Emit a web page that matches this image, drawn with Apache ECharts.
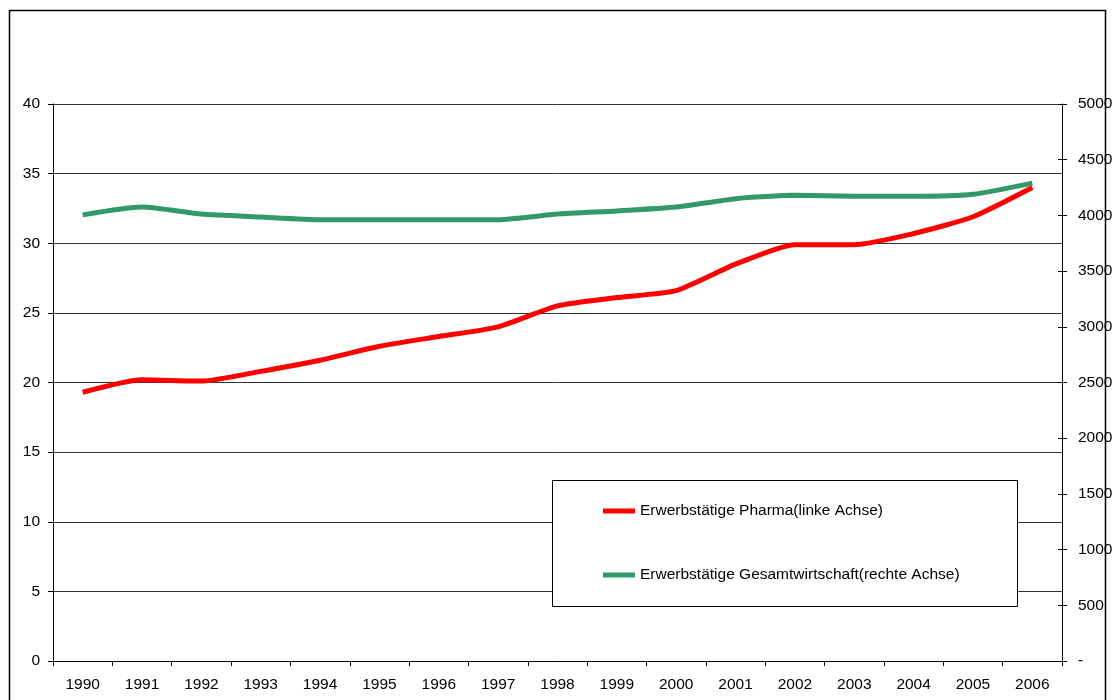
<!DOCTYPE html>
<html>
<head>
<meta charset="utf-8">
<script src="https://cdn.jsdelivr.net/npm/echarts@6/dist/echarts.min.js"></script>
<style>
  html, body { margin: 0; padding: 0; background: #fff; }
  #chart { width: 1117px; height: 700px; }
</style>
</head>
<body>
<div id="chart"></div>
<script>
// Erwerbstätige 1990–2006: Pharma (Tsd., linke Achse) vs. Gesamtwirtschaft (Tsd., rechte Achse)
const years = ['1990','1991','1992','1993','1994','1995','1996','1997','1998','1999','2000','2001','2002','2003','2004','2005','2006'];
const pharma = [19.3, 20.2, 20.1, 20.8, 21.6, 22.6, 23.3, 24.0, 25.5, 26.1, 26.6, 28.5, 29.9, 29.9, 30.7, 31.9, 34.0];
const gesamt = [4005, 4075, 4012, 3986, 3962, 3962, 3962, 3962, 4012, 4040, 4075, 4150, 4180, 4172, 4172, 4190, 4290];
const leftTicks = { min: 0, max: 40, interval: 5 };
const rightTicks = { min: 0, max: 5000, interval: 500 };

const FONT = 'Liberation Sans, Arial, sans-serif';
const FS = 15.5;
const chart = echarts.init(document.getElementById('chart'), null, { renderer: 'canvas' });

chart.setOption({
  animation: false,
  backgroundColor: '#fff',
  textStyle: { fontFamily: FONT },
  grid: { left: 53, right: 55, top: 104, bottom: 39, containLabel: false },
  graphic: [
    { type: 'rect', shape: { x: 9.5, y: 10.5, width: 1096, height: 700 },
      style: { fill: null, stroke: '#000', lineWidth: 1.5 }, silent: true, z: 0 },
    { type: 'rect', shape: { x: 552.5, y: 480.5, width: 465, height: 126 },
      style: { fill: '#fff', stroke: '#000', lineWidth: 1 }, silent: true, z: 10 }
  ],
  legend: {
    orient: 'vertical',
    left: 603,
    top: 503,
    padding: 0,
    itemGap: 48,
    itemWidth: 32,
    itemHeight: 5,
    icon: 'rect',
    z: 20,
    textStyle: { fontFamily: FONT, fontSize: FS, lineHeight: 16, color: '#000' },
    data: ['Erwerbstätige Pharma(linke Achse)', 'Erwerbstätige Gesamtwirtschaft(rechte Achse)']
  },
  xAxis: {
    type: 'category',
    data: years,
    boundaryGap: true,
    axisLine: { show: true, lineStyle: { color: '#000', width: 1 } },
    axisTick: { show: true, alignWithLabel: false, length: 5, lineStyle: { color: '#000' } },
    axisLabel: { color: '#000', fontSize: FS, margin: 16, fontFamily: FONT, interval: 0 },
    splitLine: { show: false }
  },
  yAxis: [
    {
      type: 'value',
      position: 'left',
      min: leftTicks.min, max: leftTicks.max, interval: leftTicks.interval,
      axisLine: { show: true, lineStyle: { color: '#000', width: 1 } },
      axisTick: { show: true, length: 5, lineStyle: { color: '#000' } },
      axisLabel: { color: '#000', fontSize: FS, margin: 13, fontFamily: FONT },
      splitLine: { show: true, lineStyle: { color: '#333', width: 1 } }
    },
    {
      type: 'value',
      position: 'right',
      min: rightTicks.min, max: rightTicks.max, interval: rightTicks.interval,
      axisLine: { show: true, lineStyle: { color: '#000', width: 1 } },
      axisTick: { show: true, length: 5, lineStyle: { color: '#000' } },
      axisLabel: { color: '#000', fontSize: FS, margin: 16, fontFamily: FONT,
        formatter: v => (v === 0 ? '-' : String(v)) },
      splitLine: { show: false }
    },
    {
      // inner half of the crossing ticks on the right axis
      type: 'value',
      position: 'right',
      min: rightTicks.min, max: rightTicks.max, interval: rightTicks.interval,
      axisLine: { show: false },
      axisTick: { show: true, inside: true, length: 4, lineStyle: { color: '#000' } },
      axisLabel: { show: false },
      splitLine: { show: false }
    }
  ],
  series: [
    {
      name: 'Erwerbstätige Pharma(linke Achse)',
      type: 'line',
      yAxisIndex: 0,
      data: pharma,
      smooth: 0.2,
      showSymbol: false,
      symbol: 'none',
      color: '#ff0000',
      lineStyle: { color: '#ff0000', width: 5 },
      z: 3
    },
    {
      name: 'Erwerbstätige Gesamtwirtschaft(rechte Achse)',
      type: 'line',
      yAxisIndex: 1,
      data: gesamt,
      smooth: 0.2,
      showSymbol: false,
      symbol: 'none',
      color: '#339966',
      lineStyle: { color: '#339966', width: 5 },
      z: 2
    }
  ]
});
</script>
</body>
</html>
